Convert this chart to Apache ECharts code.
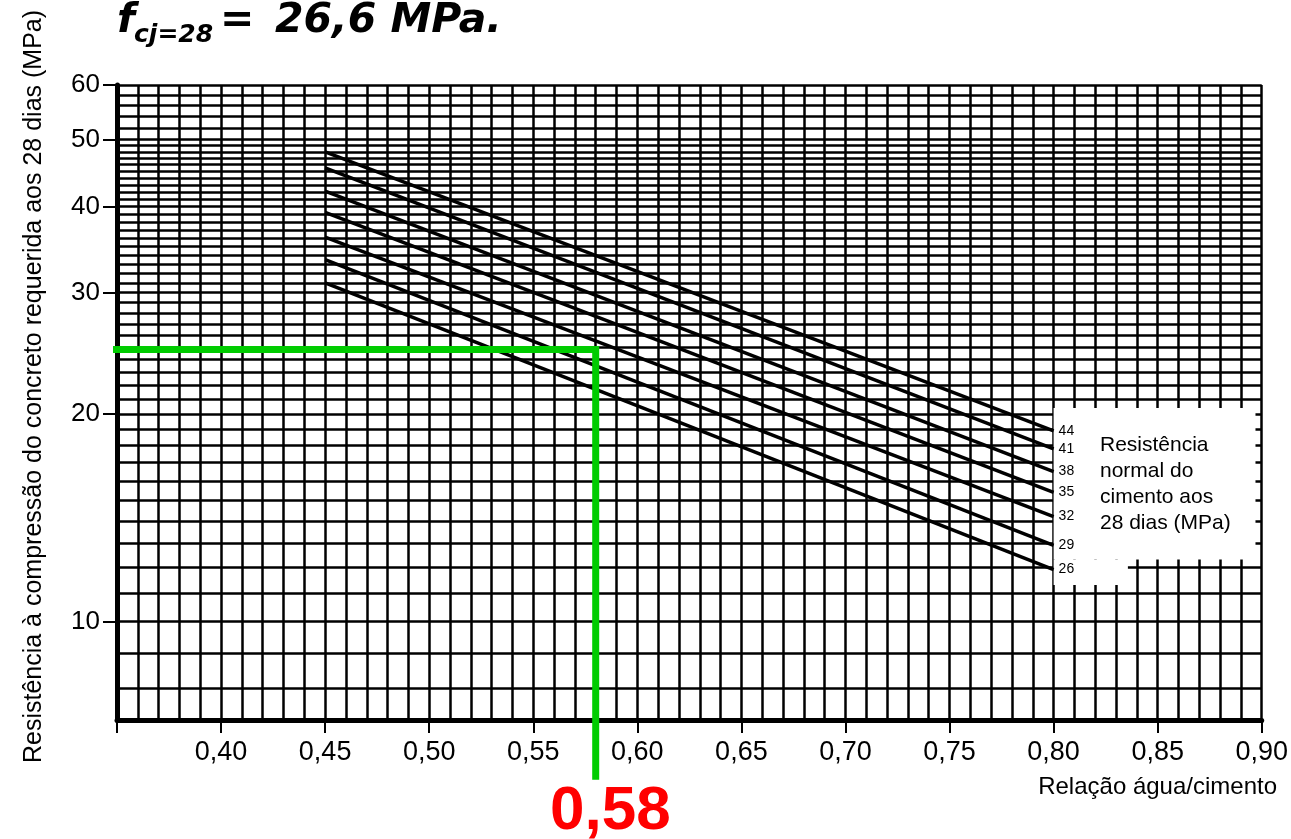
<!DOCTYPE html>
<html>
<head>
<meta charset="utf-8">
<script src="https://cdn.jsdelivr.net/npm/echarts@6/dist/echarts.min.js"></script>
<style>
html,body{margin:0;padding:0;background:#fff;}
#c{width:1291px;height:839px;}
</style>
</head>
<body>
<div id="c"></div>
<script>
// ---- data ----
const cementStrengths = ['44', '41', '38', '35', '32', '29', '26'];   // MPa, series names
const wcRatios = [0.45, 0.80];                                       // x of line ends
const strengthAtWc045 = [48.0, 45.5, 42.1, 39.2, 36.1, 33.5, 31.0];  // MPa at a/c 0,45
const strengthAtWc080 = [18.9, 17.8, 16.5, 15.4, 14.2, 12.9, 11.9];  // MPa at a/c 0,80

const yTickValues = [10, 20, 30, 40, 50, 60];
const yGridValues = [8, 9, 10, 11, 12, 13, 14, 15, 16, 17, 18, 19, 20, 21, 22, 23, 24, 25, 26, 27, 28, 29, 30,
  31, 32, 33, 34, 35, 36, 37, 38, 39, 40, 41, 42, 43, 44, 45, 46, 47, 48, 49, 50, 52, 54, 56, 58, 60];
const xMin = 0.35, xMax = 0.90, xStep = 0.05;
const yMin = 7.2, yMax = 60;

// green reading guide (hand drawn on the original)
const guideX = [0.3474, 0.58, 0.58];
const guideY = [24.8, 24.8, 5.9];
const guideLabel = '0,58';

// white legend box (x0, y0, x1, y1 in data units)
const legendBoxes = [[0.80, 12.3, 0.897, 20.4], [0.80, 11.3, 0.8357, 12.3]];
const legendTitle = 'Resistência\nnormal do\ncimento aos\n28 dias (MPa)';

const SANS = 'Liberation Sans, Arial, Helvetica, sans-serif';
const TITLE_FONT = 'DejaVu Sans, sans-serif';

const chart = echarts.init(document.getElementById('c'), null, {renderer: 'canvas'});

const curveSeries = cementStrengths.map((name, i) => ({
  name: name,
  type: 'line',
  xAxisIndex: 0,
  yAxisIndex: 0,
  symbol: 'none',
  z: 3,
  data: [[wcRatios[0], strengthAtWc045[i]], [wcRatios[1], strengthAtWc080[i]]],
  lineStyle: {color: '#000', width: 3.5},
  endLabel: {show: true, formatter: '{a}', distance: 5, fontSize: 14, color: '#000', fontFamily: SANS}
}));

const option = {
  animation: false,
  backgroundColor: '#fff',
  title: [
    {text: 'f', left: 117, top: 1, padding: 0,
      textStyle: {fontFamily: TITLE_FONT, fontStyle: 'italic', fontWeight: 'bold', fontSize: 41, color: '#000'}},
    {text: 'cj=28', left: 134, top: 23, padding: 0,
      textStyle: {fontFamily: TITLE_FONT, fontStyle: 'italic', fontWeight: 'bold', fontSize: 25, color: '#000'}},
    {text: '=', left: 220, top: 1, padding: 0,
      textStyle: {fontFamily: TITLE_FONT, fontStyle: 'italic', fontWeight: 'bold', fontSize: 41, color: '#000'}},
    {text: '26,6 MPa.', left: 275, top: 1, padding: 0,
      textStyle: {fontFamily: TITLE_FONT, fontStyle: 'italic', fontWeight: 'bold', fontSize: 41, color: '#000'}},
    {text: guideLabel, left: 550, top: 781, padding: 0,
      textStyle: {fontFamily: SANS, fontWeight: 'bold', fontSize: 62, color: '#ff0000'}},
    {text: 'Relação água/cimento', right: 14, top: 775, padding: 0,
      textStyle: {fontFamily: SANS, fontWeight: 'normal', fontSize: 24, color: '#000'}},
    {text: legendTitle, left: 1100, top: 432, padding: 0,
      textStyle: {fontFamily: SANS, fontWeight: 'normal', fontSize: 21, lineHeight: 26, color: '#000'}}
  ],
  grid: {left: 117, right: 24, top: 85, bottom: 119, containLabel: false},
  xAxis: {
    type: 'value',
    min: xMin, max: xMax, interval: xStep,
    axisLine: {show: true, onZero: false, lineStyle: {color: '#000', width: 5}},
    axisTick: {show: true, length: 13, lineStyle: {color: '#000', width: 2}},
    axisLabel: {
      color: '#000', fontFamily: SANS, fontSize: 27, margin: 19,
      formatter: v => (Math.abs(v - xMin) < 1e-9 ? '' : v.toFixed(2).replace('.', ','))
    },
    splitLine: {show: true, lineStyle: {color: '#000', width: 2.5}},
    minorTick: {show: false, splitNumber: 5},
    minorSplitLine: {show: true, lineStyle: {color: '#000', width: 2.5}}
  },
  yAxis: [
    {
      type: 'log', logBase: 10, min: yMin, max: yMax,
      name: 'Resistência à compressão do concreto requerida aos 28 dias (MPa)',
      nameLocation: 'middle', nameGap: 70,
      nameTextStyle: {fontFamily: SANS, fontSize: 25, color: '#000', padding: [0, 0, 0, 32]},
      axisLine: {show: true, lineStyle: {color: '#000', width: 5}},
      axisTick: {show: true, length: 14, customValues: yTickValues, lineStyle: {color: '#000', width: 2}},
      axisLabel: {show: true, customValues: yTickValues, color: '#000', fontFamily: SANS, fontSize: 26, margin: 17},
      splitLine: {show: false},
      minorTick: {show: false},
      minorSplitLine: {show: false}
    },
    {
      type: 'log', logBase: 10, min: yMin, max: yMax, position: 'right',
      axisLine: {show: false},
      axisTick: {show: false, customValues: yGridValues},
      axisLabel: {show: false, customValues: yGridValues},
      splitLine: {show: true, lineStyle: {color: '#000', width: 2.5}},
      minorTick: {show: false},
      minorSplitLine: {show: false}
    }
  ],
  series: [
    {
      type: 'custom',
      name: 'legendBox',
      xAxisIndex: 0, yAxisIndex: 0,
      z: 2,
      encode: {x: [0, 2], y: [1, 3]},
      data: legendBoxes,
      renderItem: function (params, api) {
        const p0 = api.coord([api.value(0), api.value(1)]);
        const p1 = api.coord([api.value(2), api.value(3)]);
        return {
          type: 'rect',
          shape: {
            x: Math.min(p0[0], p1[0]), y: Math.min(p0[1], p1[1]),
            width: Math.abs(p1[0] - p0[0]), height: Math.abs(p1[1] - p0[1])
          },
          style: {fill: '#fff', stroke: null}
        };
      }
    },
    ...curveSeries,
    {
      type: 'line',
      name: 'guide',
      xAxisIndex: 0, yAxisIndex: 0,
      symbol: 'none',
      clip: false,
      z: 6,
      data: guideX.map((x, i) => [x, guideY[i]]),
      lineStyle: {color: '#00cc00', width: 7, join: 'miter', cap: 'butt'}
    }
  ]
};
chart.setOption(option);
</script>
</body>
</html>
